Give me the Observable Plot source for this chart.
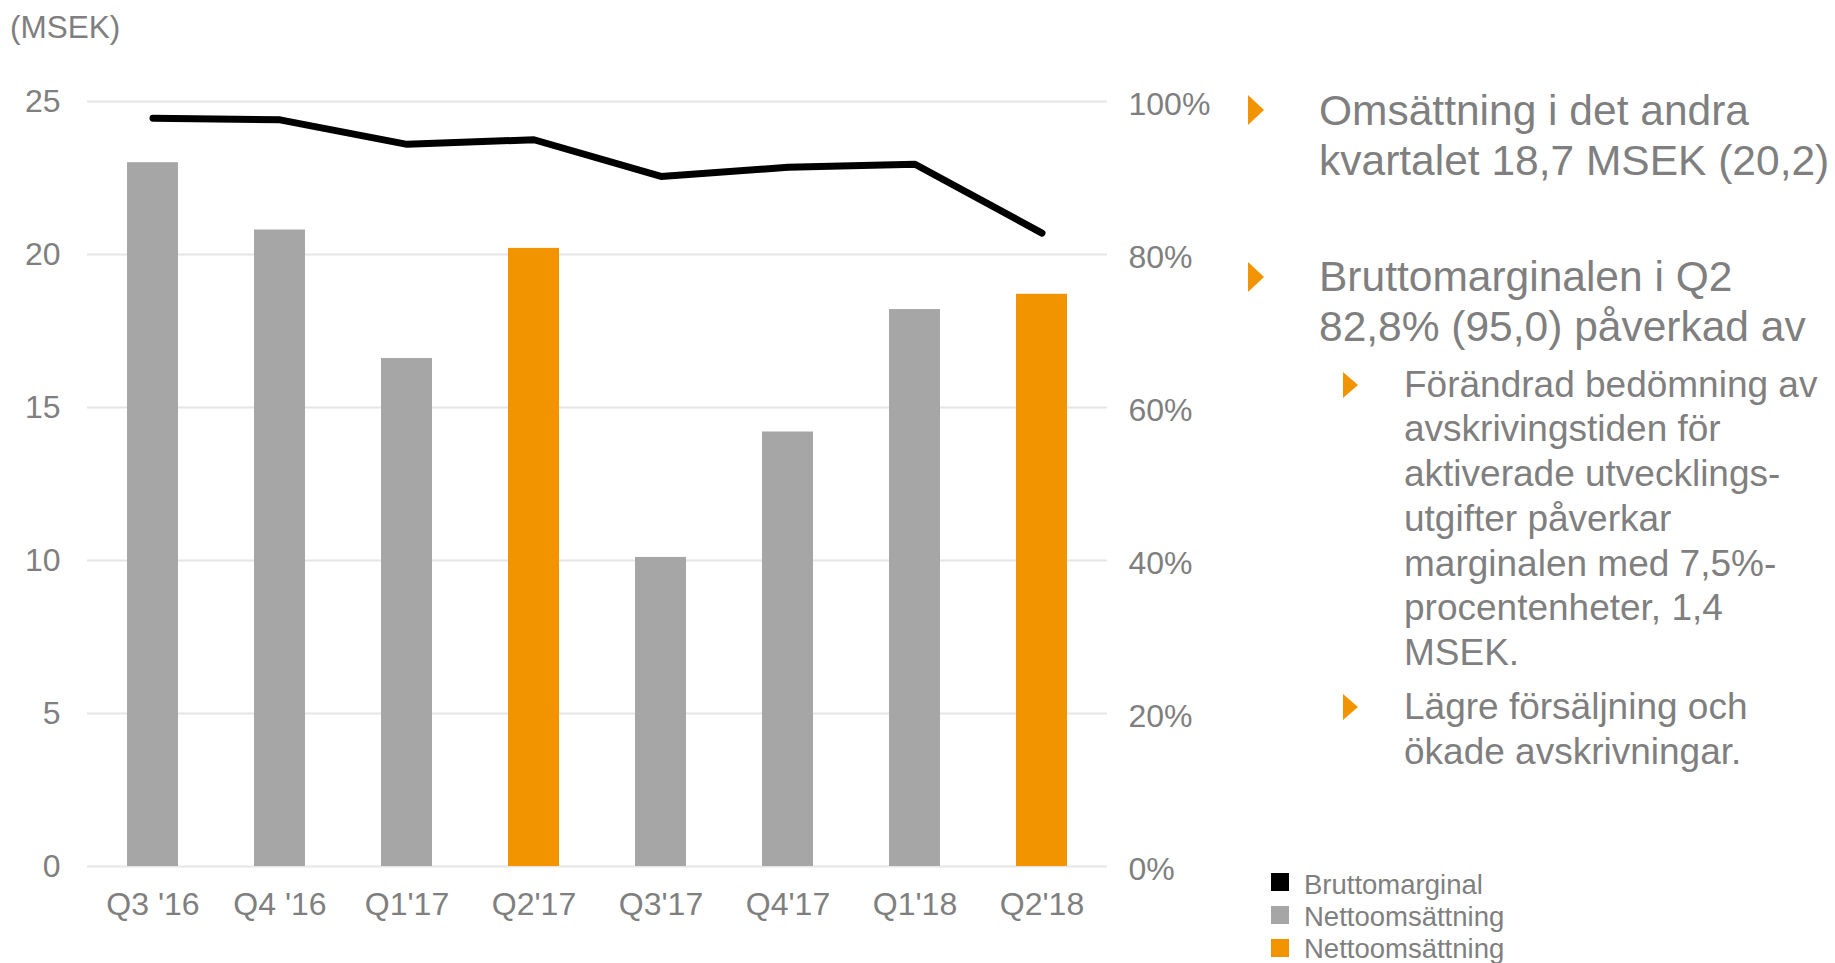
<!DOCTYPE html>
<html>
<head>
<meta charset="utf-8">
<script src="https://cdn.jsdelivr.net/npm/d3@7"></script>
<script src="https://cdn.jsdelivr.net/npm/@observablehq/plot@0.6"></script>
<style>
  html, body { margin: 0; padding: 0; background: #fff; overflow: hidden; }
  #page { position: relative; width: 1835px; height: 963px; font-family: "Liberation Sans", Arial, sans-serif; color: #7f7f7f; }
  .abs { position: absolute; white-space: nowrap; }
  #bars, #line { position: absolute; left: 0; top: 0; }
  #bars svg, #line svg { max-width: none; background: transparent; }
  .main { font-size: 42.5px; line-height: 50px; }
  .sub { font-size: 37px; line-height: 44.8px; }
  .tri { position: absolute; width: 0; height: 0; border-style: solid; border-color: transparent; }
  .tri.big { border-width: 15px 0 15px 16px; border-left-color: #f29400; }
  .tri.small { border-width: 13px 0 13px 15px; border-left-color: #f29400; }
  .sw { position: absolute; width: 18px; height: 18px; }
  .leg { font-size: 27.5px; line-height: 32.5px; }
</style>
</head>
<body>
<div id="page">
  <div id="bars"></div>
  <div id="line"></div>
  <div class="abs" style="left:10px; top:12px; font-size:31.5px; line-height:31.5px;">(MSEK)</div>

  <div class="tri big" style="left:1248px; top:95px;"></div>
  <div class="abs main" style="left:1319px; top:86px;">Omsättning i det andra<br>kvartalet 18,7 MSEK (20,2)</div>

  <div class="tri big" style="left:1248px; top:262px;"></div>
  <div class="abs main" style="left:1319px; top:252px;">Bruttomarginalen i Q2<br>82,8% (95,0) påverkad av</div>

  <div class="tri small" style="left:1343px; top:372px;"></div>
  <div class="abs sub" style="left:1404px; top:362.5px;">Förändrad bedömning av<br>avskrivingstiden för<br>aktiverade utvecklings-<br>utgifter påverkar<br>marginalen med 7,5%-<br>procentenheter, 1,4<br>MSEK.</div>

  <div class="tri small" style="left:1343px; top:694px;"></div>
  <div class="abs sub" style="left:1404px; top:685px;">Lägre försäljning och<br>ökade avskrivningar.</div>

  <div id="legend"></div>
</div>
<script>
// ---- data ----
const quarters = ["Q3 '16", "Q4 '16", "Q1'17", "Q2'17", "Q3'17", "Q4'17", "Q1'18", "Q2'18"];
const revenue = [23.0, 20.8, 16.6, 20.2, 10.1, 14.2, 18.2, 18.7];      // Nettoomsättning, MSEK
const grossMargin = [97.8, 97.6, 94.4, 95.0, 90.2, 91.4, 91.8, 82.8];   // Bruttomarginal, %
const highlighted = ["Q2'17", "Q2'18"];
const leftTicks = [0, 5, 10, 15, 20, 25];
const rightTicks = [0, 20, 40, 60, 80, 100];
const legendLabels = ["Bruttomarginal", "Nettoomsättning", "Nettoomsättning"];
const legendColors = ["#000000", "#a6a6a6", "#f29400"];

// ---- charts ----
const common = {
  width: 1200, height: 963,
  marginLeft: 87, marginRight: 93, marginTop: 101, marginBottom: 97,
  style: { fontFamily: "'Liberation Sans', Arial, sans-serif", fontSize: "32px", color: "#7f7f7f", background: "transparent", overflow: "visible" }
};
const xScale = { type: "band", domain: quarters, paddingInner: 0.6, paddingOuter: 0.3 };

const barData = quarters.map((q, i) => ({ q, value: revenue[i], group: highlighted.includes(q) ? "Q2" : "other" }));
const barChart = Plot.plot({
  ...common,
  x: xScale,
  y: { domain: [0, 25] },
  color: { domain: ["other", "Q2"], range: ["#a6a6a6", "#f29400"] },
  marks: [
    Plot.ruleY(leftTicks, { stroke: "#e6e6e6", strokeWidth: 2 }),
    Plot.barY(barData, { x: "q", y: "value", fill: "group" }),
    Plot.axisY(leftTicks, { anchor: "left", tickSize: 0, tickPadding: 27, fontSize: 32, label: null }),
    Plot.axisX({ anchor: "bottom", tickSize: 0, tickPadding: 26, fontSize: 32, label: null })
  ]
});
document.getElementById("bars").appendChild(barChart);

const lineData = quarters.map((q, i) => ({ q, pct: grossMargin[i] }));
const lineChart = Plot.plot({
  ...common,
  x: { ...xScale, axis: null },
  y: { domain: [0, 100] },
  marks: [
    Plot.line(lineData, { x: "q", y: "pct", stroke: "#000", strokeWidth: 7, strokeLinecap: "round", strokeLinejoin: "miter" }),
    Plot.axisY(rightTicks, { anchor: "right", tickSize: 0, tickPadding: 21, dy: 3, tickFormat: d => d + "%", fontSize: 32, label: null })
  ]
});
document.getElementById("line").appendChild(lineChart);

// ---- legend ----
const legend = document.getElementById("legend");
const swTops = [873, 906, 939];
legendLabels.forEach((label, i) => {
  const sw = document.createElement("div");
  sw.className = "sw";
  sw.style.left = "1271px";
  sw.style.top = swTops[i] + "px";
  sw.style.background = legendColors[i];
  legend.appendChild(sw);
  const t = document.createElement("div");
  t.className = "abs leg";
  t.style.left = "1304px";
  t.style.top = (868.5 + i * 32.2) + "px";
  t.textContent = label;
  legend.appendChild(t);
});
</script>
</body>
</html>
